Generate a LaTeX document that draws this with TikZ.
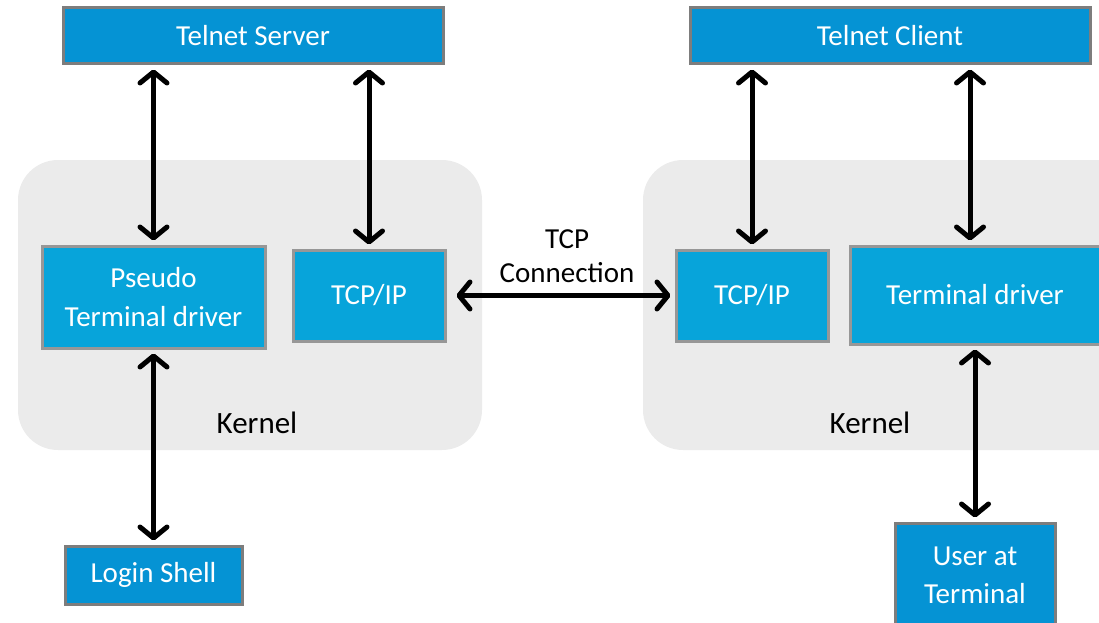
\documentclass[tikz,border=0pt]{standalone}
\usepackage{fontspec}
\setmainfont{Carlito}
\usetikzlibrary{arrows.meta}

\definecolor{boxblue}{RGB}{5,147,212}
\definecolor{kernblue}{RGB}{7,164,218}
\definecolor{kerngray}{RGB}{235,235,235}
\definecolor{rimgray}{RGB}{125,125,125}

\tikzset{
  blk/.style={draw=rimgray,line width=3pt,fill=boxblue,text=white,
    font=\fontsize{29}{34}\selectfont,align=center,inner sep=0pt},
  kblk/.style={blk,fill=kernblue,draw=rimgray!80},
  link/.style={line width=5pt,{Straight Barb[length=11pt,width=27pt,round]}-{Straight Barb[length=11pt,width=27pt,round]},
    shorten <=4pt,shorten >=4pt},
}

\begin{document}
\begin{tikzpicture}[x=1pt,y=-1pt]
  \useasboundingbox (0,0) rectangle (1099,623);

  % kernel areas
  \fill[kerngray,rounded corners=40pt] (18,160) rectangle (482,450);
  \fill[kerngray,rounded corners=40pt] (643,160) rectangle (1140,450);
  \node[font=\fontsize{31}{36}\selectfont] (kl) at (257,423) {Kernel};
  \node[font=\fontsize{31}{36}\selectfont] (kr) at (870,423) {Kernel};

  % server side
  \node[blk,minimum width=380pt,minimum height=56pt] (server) at (253,36) {Telnet Server};
  \node[kblk,minimum width=223pt,minimum height=102pt] (pty) at (153.5,297) {Pseudo\\[5pt]Terminal driver};
  \node[kblk,minimum width=152pt,minimum height=91pt] (tcpl) at (369,295.5) {TCP/IP};
  \node[blk,minimum width=177pt,minimum height=58pt] (login) at (153.5,575) {Login Shell};

  % client side
  \node[blk,minimum width=400pt,minimum height=56pt] (client) at (890,36) {Telnet Client};
  \node[kblk,minimum width=152pt,minimum height=91pt] (tcpr) at (752,295.5) {TCP/IP};
  \node[kblk,minimum width=250pt,minimum height=98pt] (tdrv) at (975,295) {Terminal driver};
  \node[blk,minimum width=160pt,minimum height=104pt] (user) at (975,575) {User at\\[4pt]Terminal};

  \node[font=\fontsize{29}{34}\selectfont,align=center] (conn) at (567,256) {TCP\\Connection};

  % connectors
  \draw[link] (pty.north) -- (pty.north |- server.south);
  \draw[link] (tcpl.north) -- (tcpl.north |- server.south);
  \draw[link] (pty.south) -- (login.north);
  \draw[link,shorten <=10pt] (tcpl.east) -- (tcpr.west);
  \draw[link] (tcpr.north) -- (tcpr.north |- client.south);
  \draw[link] ([xshift=-5pt]tdrv.north) -- ([xshift=-5pt]tdrv.north |- client.south);
  \draw[link] (tdrv.south) -- (user.north);
\end{tikzpicture}
\end{document}
